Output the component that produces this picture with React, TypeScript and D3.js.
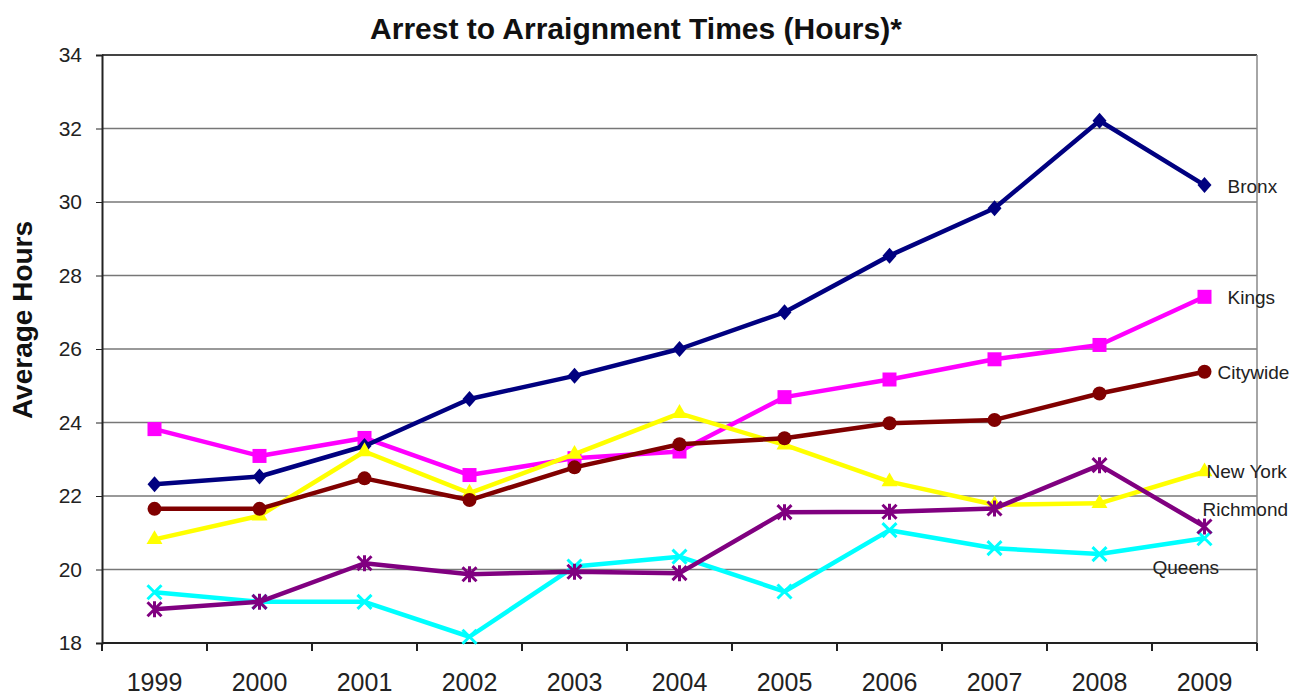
import React from 'react';
import * as d3 from 'd3';

const years = ['1999', '2000', '2001', '2002', '2003', '2004', '2005', '2006', '2007', '2008', '2009'];
const yTicks = [18, 20, 22, 24, 26, 28, 30, 32, 34];

const bronx = [22.32, 22.53, 23.36, 24.64, 25.27, 26.0, 27.0, 28.54, 29.83, 32.21, 30.46];
const kings = [23.82, 23.09, 23.58, 22.57, 23.03, 23.21, 24.69, 25.17, 25.72, 26.11, 27.42];
const newYork = [20.82, 21.46, 23.21, 22.08, 23.14, 24.25, 23.39, 22.39, 21.76, 21.8, 22.66];
const queens = [19.38, 19.12, 19.12, 18.17, 20.08, 20.35, 19.4, 21.07, 20.58, 20.42, 20.85];
const richmond = [18.92, 19.12, 20.17, 19.87, 19.94, 19.9, 21.56, 21.57, 21.66, 22.84, 21.17];
const citywide = [21.65, 21.65, 22.48, 21.89, 22.78, 23.41, 23.57, 23.98, 24.07, 24.79, 25.38];

interface Series {
  name: string;
  values: number[];
  color: string;
  marker: string;
  labelDx: number;
  labelDy: number;
}

// draw order: last one ends on top
const series: Series[] = [
  { name: 'Kings', values: kings, color: '#ff00ff', marker: 'square', labelDx: 23, labelDy: 1 },
  { name: 'Bronx', values: bronx, color: '#000080', marker: 'diamond', labelDx: 23, labelDy: 1 },
  { name: 'New York', values: newYork, color: '#ffff00', marker: 'triangle', labelDx: 2, labelDy: 0 },
  { name: 'Queens', values: queens, color: '#00ffff', marker: 'x', labelDx: -52, labelDy: 29 },
  { name: 'Richmond', values: richmond, color: '#800080', marker: 'star', labelDx: -2, labelDy: -17 },
  { name: 'Citywide', values: citywide, color: '#800000', marker: 'circle', labelDx: 13, labelDy: 1 },
];

const W = 1307;
const H = 695;
const margin = { top: 55, right: 50, bottom: 52, left: 102 };
const FONT = 'Liberation Sans, Arial, sans-serif';

const App: React.FC = () => {
  const svgRef = React.useRef<SVGSVGElement>(null);

  React.useEffect(() => {
    if (!svgRef.current) return;
    const svg = d3.select(svgRef.current);
    svg.selectAll('*').remove();

    const innerW = W - margin.left - margin.right;
    const innerH = H - margin.top - margin.bottom;

    const x = d3.scaleBand().domain(years).range([0, innerW]);
    const y = d3.scaleLinear().domain([18, 34]).range([innerH, 0]);
    const cx = (yr: string) => (x(yr) || 0) + x.bandwidth() / 2;

    svg.append('rect').attr('width', W).attr('height', H).attr('fill', '#fff');

    // 제목
    svg.append('text')
      .attr('x', 636)
      .attr('y', 39)
      .attr('text-anchor', 'middle')
      .attr('font-family', FONT)
      .attr('font-size', 30)
      .attr('font-weight', 'bold')
      .attr('fill', '#111')
      .text('Arrest to Arraignment Times (Hours)*');

    // Y축 제목
    svg.append('text')
      .attr('transform', `translate(32,320) rotate(-90)`)
      .attr('text-anchor', 'middle')
      .attr('font-family', FONT)
      .attr('font-size', 28)
      .attr('font-weight', 'bold')
      .attr('fill', '#111')
      .text('Average Hours');

    const g = svg.append('g').attr('transform', `translate(${margin.left},${margin.top})`);

    // gridlines
    g.selectAll('.grid')
      .data(yTicks.filter(t => t !== 18))
      .enter().append('line')
      .attr('x1', 0)
      .attr('x2', innerW)
      .attr('y1', d => y(d))
      .attr('y2', d => y(d))
      .attr('stroke', d => (d === 34 ? '#444' : '#777'))
      .attr('stroke-width', d => (d === 34 ? 2 : 1.5));

    // right border
    g.append('line')
      .attr('x1', innerW).attr('x2', innerW)
      .attr('y1', 0).attr('y2', innerH)
      .attr('stroke', '#888').attr('stroke-width', 1.5);

    // y axis
    const yAxis = g.append('g')
      .call(d3.axisLeft(y).tickValues(yTicks).tickSize(6).tickPadding(14).tickFormat(d3.format('d')));
    yAxis.select('.domain').attr('stroke', '#222').attr('stroke-width', 2);
    yAxis.selectAll('line').attr('stroke', '#222');
    yAxis.selectAll('text')
      .attr('font-family', FONT)
      .attr('font-size', 21)
      .attr('fill', '#222');

    // x axis
    const xAxis = g.append('g').attr('transform', `translate(0,${innerH})`);
    xAxis.append('line')
      .attr('x1', 0).attr('x2', innerW)
      .attr('stroke', '#222').attr('stroke-width', 2);
    xAxis.selectAll('.tick')
      .data(d3.range(years.length + 1))
      .enter().append('line')
      .attr('x1', i => i * x.bandwidth())
      .attr('x2', i => i * x.bandwidth())
      .attr('y1', 0).attr('y2', 8)
      .attr('stroke', '#222').attr('stroke-width', 2);
    xAxis.selectAll('.lbl')
      .data(years)
      .enter().append('text')
      .attr('x', d => cx(d))
      .attr('y', 48)
      .attr('text-anchor', 'middle')
      .attr('font-family', FONT)
      .attr('font-size', 25)
      .attr('fill', '#222')
      .text(d => d);

    const line = d3.line<number>()
      .x((_, i) => cx(years[i]))
      .y(d => y(d));

    const drawMarker = (sel: any, s: Series, px: number, py: number) => {
      const m = sel.append('g').attr('transform', `translate(${px},${py})`);
      if (s.marker === 'square') {
        m.append('rect').attr('x', -7).attr('y', -7).attr('width', 14).attr('height', 14).attr('fill', s.color);
      } else if (s.marker === 'diamond') {
        m.append('path').attr('d', 'M0,-8L7,0L0,8L-7,0Z').attr('fill', s.color);
      } else if (s.marker === 'circle') {
        m.append('circle').attr('r', 7).attr('fill', s.color);
      } else if (s.marker === 'triangle') {
        m.append('path').attr('d', d3.symbol(d3.symbolTriangle, 110)()).attr('fill', s.color);
      } else if (s.marker === 'x') {
        m.append('path').attr('d', 'M-7,-7L7,7M-7,7L7,-7').attr('stroke', s.color).attr('stroke-width', 3);
      } else if (s.marker === 'star') {
        m.append('path').attr('d', 'M-7,-7L7,7M-7,7L7,-7M0,-8L0,8').attr('stroke', s.color).attr('stroke-width', 3);
      }
    };

    series.forEach(s => {
      const sg = g.append('g');
      sg.append('path')
        .datum(s.values)
        .attr('d', line)
        .attr('fill', 'none')
        .attr('stroke', s.color)
        .attr('stroke-width', 4.5)
        .attr('stroke-linejoin', 'round');
      s.values.forEach((v, i) => drawMarker(sg, s, cx(years[i]), y(v)));
    });

    // 끝 라벨
    series.forEach(s => {
      const last = s.values[s.values.length - 1];
      g.append('text')
        .attr('x', cx(years[years.length - 1]) + s.labelDx)
        .attr('y', y(last) + s.labelDy)
        .attr('dy', '0.35em')
        .attr('font-family', FONT)
        .attr('font-size', 19)
        .attr('fill', '#222')
        .text(s.name);
    });
  }, []);

  return (
    <svg
      ref={svgRef}
      width={W}
      height={H}
      style={{ position: 'absolute', left: 0, top: 0, display: 'block' }}
    />
  );
};

export default App;
